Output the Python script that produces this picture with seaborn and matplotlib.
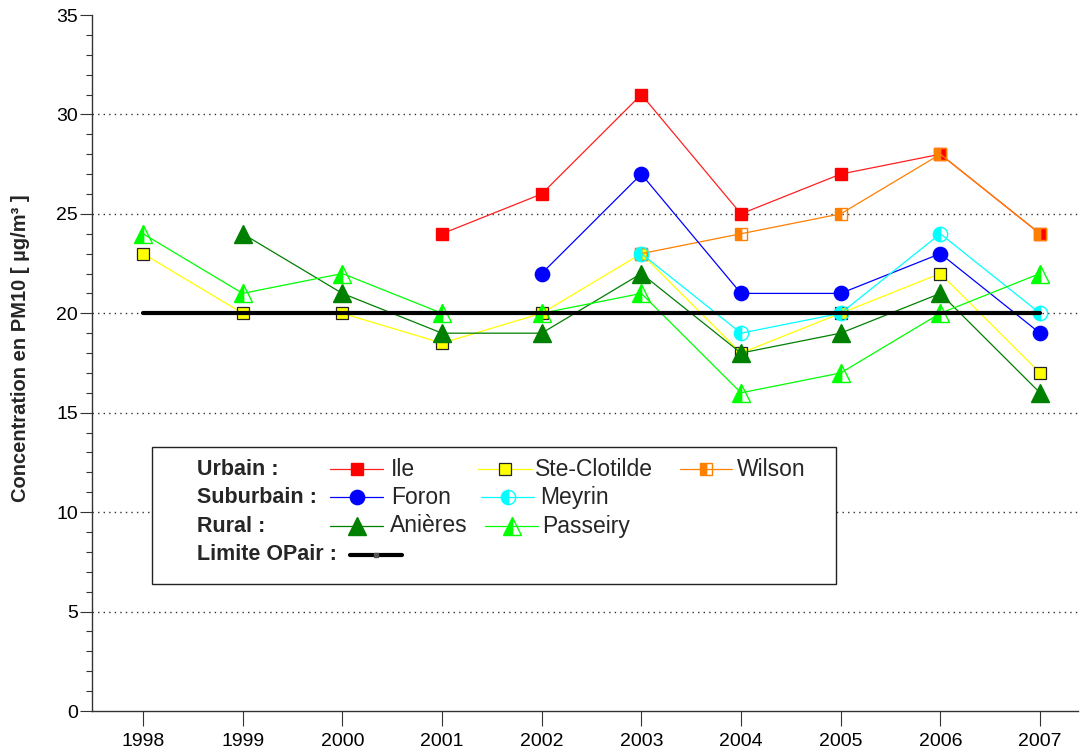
import numpy as np
import matplotlib
matplotlib.use("Agg")
import matplotlib.pyplot as plt
import seaborn as sns
from matplotlib.patches import Rectangle
from matplotlib.lines import Line2D
from matplotlib.ticker import MultipleLocator

# ---- data: annual mean PM10 (µg/m³) ----
years = [1998, 1999, 2000, 2001, 2002, 2003, 2004, 2005, 2006, 2007]
nan = np.nan
ile = [nan, nan, nan, 24, 26, 31, 25, 27, 28, 24]
ste_clotilde = [23, 20, 20, 18.5, 20, 23, 18, 20, 22, 17]
wilson = [nan, nan, nan, nan, nan, 23, 24, 25, 28, 24]
foron = [nan, nan, nan, nan, 22, 27, 21, 21, 23, 19]
meyrin = [nan, nan, nan, nan, nan, 23, 19, 20, 24, 20]
anieres = [nan, 24, 21, 19, 19, 22, 18, 19, 21, 16]
passeiry = [24, 21, 22, 20, 20, 21, 16, 17, 20, 22]
limite_opair = [20] * len(years)

y_ticks = [0, 5, 10, 15, 20, 25, 30, 35]
grid_levels = [5, 10, 15, 20, 25, 30]

sns.set_style("white")
plt.rcParams["font.family"] = ["Liberation Sans", "DejaVu Sans"]

FIG_W, FIG_H = 1081, 753
AX_L, AX_R, AX_T, AX_B = 92, 1078, 15, 711
fig = plt.figure(figsize=(FIG_W / 100, FIG_H / 100), dpi=100)
ax = fig.add_axes([AX_L / FIG_W, 1 - AX_B / FIG_H,
                   (AX_R - AX_L) / FIG_W, (AX_B - AX_T) / FIG_H])

LW = 0.9
styles = {
    "Ile": dict(color="#FF2020", marker="s", markersize=9.2,
                markerfacecolor="#FF0000", markeredgecolor="#FF0000"),
    "Ste-Clotilde": dict(color="#FFFF00", marker="s", markersize=9.2,
                         markerfacecolor="#FFFF00", markeredgecolor="#222222",
                         markeredgewidth=0.9),
    "Wilson": dict(color="#FF8000", marker="s", markersize=9.2,
                   markerfacecolor="#FF8000", markeredgecolor="#FF8000",
                   fillstyle="left", markerfacecoloralt="none"),
    "Foron": dict(color="#0000FF", marker="o", markersize=10.3,
                  markerfacecolor="#0000FF", markeredgecolor="#0000FF"),
    "Meyrin": dict(color="#00FFFF", marker="o", markersize=10.3,
                   markerfacecolor="#00FFFF", markeredgecolor="#00FFFF",
                   fillstyle="left", markerfacecoloralt="none"),
    "Anières": dict(color="#008000", marker="^", markersize=12.5,
                    markerfacecolor="#008000", markeredgecolor="#008000"),
    "Passeiry": dict(color="#00FF00", marker="^", markersize=12.5,
                     markerfacecolor="#00FF00", markeredgecolor="#00FF00",
                     fillstyle="left", markerfacecoloralt="none"),
}
series = [
    ("Ste-Clotilde", ste_clotilde, 3),
    ("Ile", ile, 4),
    ("Wilson", wilson, 5),
    ("Foron", foron, 6),
    ("Meyrin", meyrin, 7),
    ("Anières", anieres, 8),
    ("Passeiry", passeiry, 9),
]

for name, vals, z in series:
    st = dict(styles[name])
    st.setdefault("markeredgewidth", 1.0)
    sns.lineplot(x=years, y=vals, ax=ax, estimator=None, linewidth=LW,
                 zorder=z, **st)

# regulatory limit
sns.lineplot(x=years, y=limite_opair, ax=ax, estimator=None, color="black",
             linewidth=3.0, zorder=10)

# ---- axes ----
step = (1040 - 143) / 9
ax.set_xlim(1998 - (143 - AX_L) / step, 2007 + (AX_R - 1040) / step)
ax.set_ylim(0, 35)
ax.set_xticks(years)
ax.set_xticklabels([str(y) for y in years])
ax.set_yticks(y_ticks)
ax.yaxis.set_minor_locator(MultipleLocator(1))

for s in ("top", "right"):
    ax.spines[s].set_visible(False)
for s in ("left", "bottom"):
    ax.spines[s].set_color("#333333")
    ax.spines[s].set_linewidth(1.0)

ax.tick_params(axis="y", which="major", direction="out", length=8.6,
               width=0.8, colors="#333333", labelcolor="black",
               labelsize=14, pad=1.5, left=True)
ax.tick_params(axis="y", which="minor", direction="out", length=4.3,
               width=0.8, colors="#333333", left=True)
ax.tick_params(axis="x", which="major", direction="out", length=11,
               width=0.8, colors="#333333", labelcolor="black",
               labelsize=14, pad=5, bottom=True)

# dotted horizontal grid, interior levels only
ax.grid(False)
for lvl in grid_levels:
    ax.axhline(lvl, color="#333333", linestyle=(0, (1, 3)), linewidth=1.0,
               zorder=1)

ax.set_xlabel("")
ax.set_ylabel("Concentration en PM10 [ µg/m³ ]", fontsize=14.5,
              fontweight="bold")
ax.yaxis.set_label_coords((30 - AX_L) / (AX_R - AX_L), 0.522)


# ---- legend panel ----
def frac(px, py):
    return (px - AX_L) / (AX_R - AX_L), (AX_B - py) / (AX_B - AX_T)


bx0, by0 = frac(152, 584)
bx1, by1 = frac(836, 447)
ax.add_patch(Rectangle((bx0, by0), bx1 - bx0, by1 - by0,
                       transform=ax.transAxes, facecolor="white",
                       edgecolor="#222222", linewidth=1.0, zorder=20,
                       clip_on=False))

rows_y = [469, 497, 526, 555]
group_labels = ["Urbain :", "Suburbain :", "Rural :", "Limite OPair :"]
for lab, ry in zip(group_labels, rows_y):
    fx, fy = frac(197, ry)
    ax.text(fx, fy, lab, transform=ax.transAxes, fontsize=15.5,
            fontweight="bold", ha="left", va="center", zorder=21)

# (name, row, handle start, handle end, text x)
entries = [
    ("Ile", 0, 330, 383, 391),
    ("Ste-Clotilde", 0, 478, 532, 535),
    ("Wilson", 0, 680, 732, 737),
    ("Foron", 1, 330, 383, 391),
    ("Meyrin", 1, 481, 534, 540),
    ("Anières", 2, 330, 383, 390),
    ("Passeiry", 2, 485, 538, 542),
]
for name, r, hx0, hx1, tx in entries:
    st = dict(styles[name])
    st.setdefault("markeredgewidth", 1.0)
    col = st.pop("color")
    fx0, fy = frac(hx0, rows_y[r])
    fx1, _ = frac(hx1, rows_y[r])
    ax.add_line(Line2D([fx0, fx1], [fy, fy], transform=ax.transAxes,
                       color=col, linewidth=LW, zorder=21, clip_on=False))
    ax.add_line(Line2D([(fx0 + fx1) / 2], [fy], transform=ax.transAxes,
                       linestyle="none", zorder=22, clip_on=False, **st))
    ftx, _ = frac(tx, rows_y[r])
    ax.text(ftx, fy, name, transform=ax.transAxes, fontsize=16.5,
            ha="left", va="center", zorder=21)

fx0, fy = frac(350, rows_y[3])
fx1, _ = frac(402, rows_y[3])
ax.add_line(Line2D([fx0, fx1], [fy, fy], transform=ax.transAxes,
                   color="black", linewidth=3.0, zorder=21, clip_on=False))
ax.add_line(Line2D([(fx0 + fx1) / 2], [fy], transform=ax.transAxes,
                   linestyle="none", marker="s", markersize=2.2,
                   markerfacecolor="#555555", markeredgecolor="#555555",
                   zorder=22, clip_on=False))

fig.savefig("out.png", dpi=100, facecolor="white")
